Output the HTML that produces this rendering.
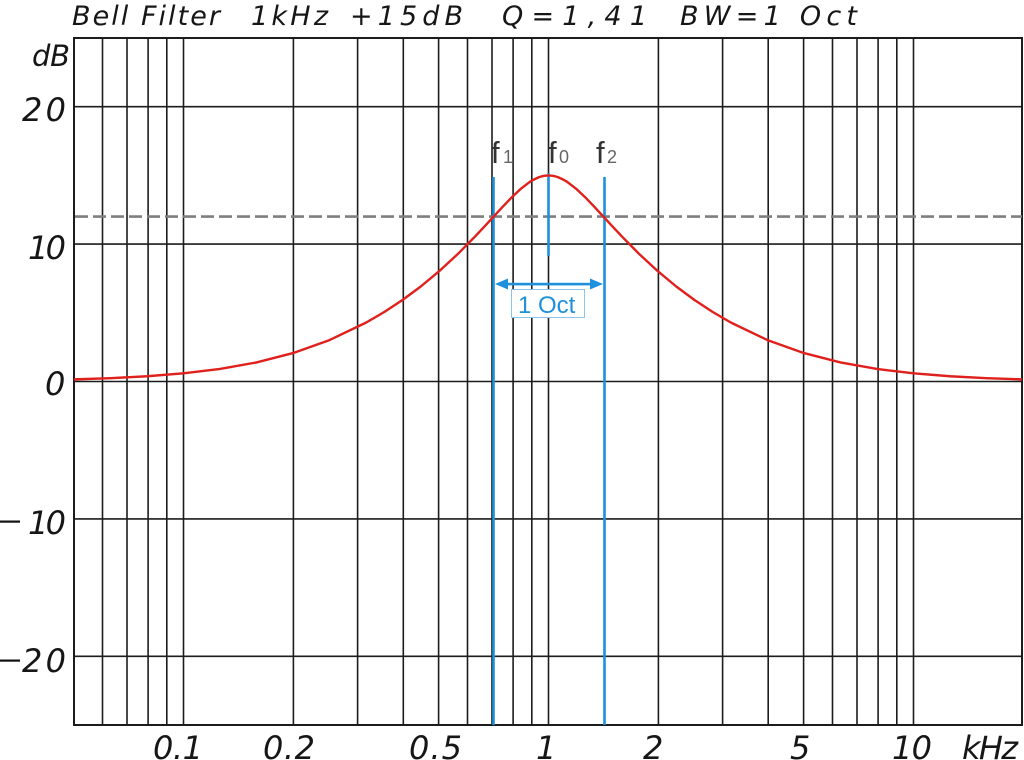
<!DOCTYPE html>
<html><head><meta charset="utf-8"><style>
html,body{margin:0;padding:0;background:#fff;}
svg{display:block;}
.t{font-family:"DejaVu Sans","Liberation Sans",sans-serif;font-style:italic;fill:#161616;}
</style></head><body>
<svg width="1024" height="760" viewBox="0 0 1024 760" xmlns="http://www.w3.org/2000/svg">
<rect width="1024" height="760" fill="#fff"/>
<!-- title -->
<g class="t" font-size="27">
<text x="72" y="25" textLength="148" lengthAdjust="spacing">Bell Filter</text>
<text x="251" y="25" textLength="77" lengthAdjust="spacing">1kHz</text>
<text x="350" y="25" textLength="113" lengthAdjust="spacing">+15dB</text>
<text x="502" y="25" textLength="145" lengthAdjust="spacing">Q=1,41</text>
<text x="680" y="25" textLength="177" lengthAdjust="spacing">BW=1 Oct</text>
</g>
<!-- grid -->
<g stroke="#1c1c1c" stroke-width="1.6" fill="none">
<line x1="102.5" y1="38" x2="102.5" y2="725"/>
<line x1="127" y1="38" x2="127" y2="725"/>
<line x1="148.1" y1="38" x2="148.1" y2="725"/>
<line x1="166.8" y1="38" x2="166.8" y2="725"/>
<line x1="183.5" y1="38" x2="183.5" y2="725"/>
<line x1="293.4" y1="38" x2="293.4" y2="725"/>
<line x1="357.6" y1="38" x2="357.6" y2="725"/>
<line x1="403.3" y1="38" x2="403.3" y2="725"/>
<line x1="438.6" y1="38" x2="438.6" y2="725"/>
<line x1="467.5" y1="38" x2="467.5" y2="725"/>
<line x1="492" y1="38" x2="492" y2="725"/>
<line x1="513.1" y1="38" x2="513.1" y2="725"/>
<line x1="531.8" y1="38" x2="531.8" y2="725"/>
<line x1="548.5" y1="38" x2="548.5" y2="725"/>
<line x1="658.4" y1="38" x2="658.4" y2="725"/>
<line x1="722.6" y1="38" x2="722.6" y2="725"/>
<line x1="768.2" y1="38" x2="768.2" y2="725"/>
<line x1="803.6" y1="38" x2="803.6" y2="725"/>
<line x1="832.5" y1="38" x2="832.5" y2="725"/>
<line x1="857" y1="38" x2="857" y2="725"/>
<line x1="878.1" y1="38" x2="878.1" y2="725"/>
<line x1="896.8" y1="38" x2="896.8" y2="725"/>
<line x1="913.5" y1="38" x2="913.5" y2="725"/>
<line x1="74" y1="106.7" x2="1022" y2="106.7"/>
<line x1="74" y1="244.1" x2="1022" y2="244.1"/>
<line x1="74" y1="381.5" x2="1022" y2="381.5"/>
<line x1="74" y1="518.9" x2="1022" y2="518.9"/>
<line x1="74" y1="656.3" x2="1022" y2="656.3"/>
<rect x="74" y="38" width="948" height="687" stroke-width="2"/>
</g>
<!-- dashed line -->
<line x1="75" y1="216.6" x2="1022" y2="216.6" stroke="#7f7f7f" stroke-width="2.6" stroke-dasharray="13 5"/>
<!-- blue markers -->
<g stroke="#1e90dc" stroke-width="2.6" fill="none">
<line x1="493.5" y1="177" x2="493.5" y2="725"/>
<line x1="604.5" y1="177" x2="604.5" y2="725"/>
<line x1="548.5" y1="173" x2="548.5" y2="256"/>
</g>
<!-- red curve -->
<polyline fill="none" stroke="#e0201c" stroke-width="2.4" stroke-linejoin="round" points="
74,379.37 110.5,378.15 147,376.25 183.5,373.35 220,368.96 256.5,362.44 293,353.09 329.5,340.07 366,322.64 384.25,312.02 402.5,300.01 420.75,286.49 439,271.36 457.25,254.54 475.5,236.08 484.63,226.34 493.75,216.41 502.88,206.53 512,197.07 521.13,188.52 530.25,181.6 534.8,179.1 539.38,177.01 544,175.8 548.5,175.4 553,175.8 557.63,177.01 562.2,179.1 566.75,181.6 575.88,188.52 585,197.07 594.13,206.53 603.25,216.41 612.38,226.34 621.5,236.08 639.75,254.54 658,271.36 676.25,286.49 694.5,300.01 712.75,312.02 731,322.64 767.5,340.07 804,353.09 840.5,362.44 877,368.96 913.5,373.35 950,376.25 986.5,378.15 1022,379.37"/>
<!-- arrow -->
<g fill="#1e90dc" stroke="none">
<rect x="504" y="282.8" width="90" height="2.6"/>
<polygon points="495,284 508,278.5 508,289.5"/>
<polygon points="603,284 590,278.5 590,289.5"/>
</g>
<rect x="511.5" y="289.5" width="73" height="28" fill="#fff" stroke="#8cc4ec" stroke-width="1"/>
<text x="518" y="313" font-family="Liberation Sans, sans-serif" font-size="24" fill="#1e90dc">1 Oct</text>
<!-- f labels -->
<g font-family="Liberation Sans, sans-serif">
<text x="491" y="163" font-size="31" fill="#333">f</text>
<text x="503" y="163" font-size="18" fill="#666">1</text>
<text x="548" y="163" font-size="31" fill="#333">f</text>
<text x="559" y="163" font-size="18" fill="#666">0</text>
<text x="596" y="163" font-size="31" fill="#333">f</text>
<text x="607" y="163" font-size="18" fill="#666">2</text>
</g>
<!-- y labels -->
<g class="t" font-size="32">
<text x="32" y="66" font-size="29" textLength="38" lengthAdjust="spacing">dB</text>
<text x="22" y="121" textLength="44" lengthAdjust="spacing">20</text>
<text x="28" y="259" textLength="38" lengthAdjust="spacing">10</text>
<text x="45" y="395">0</text>
<text x="28" y="534" textLength="38" lengthAdjust="spacing">10</text>
<text x="22" y="672" textLength="44" lengthAdjust="spacing">20</text>
</g>
<rect x="0" y="520.5" width="20" height="2.2" fill="#111"/>
<rect x="0" y="659.5" width="20" height="2.2" fill="#111"/>
<!-- x labels -->
<g class="t" font-size="32">
<text x="153" y="759" textLength="50" lengthAdjust="spacing">0.1</text>
<text x="263" y="759" textLength="52" lengthAdjust="spacing">0.2</text>
<text x="409" y="759" textLength="53" lengthAdjust="spacing">0.5</text>
<text x="536" y="759">1</text>
<text x="643" y="759">2</text>
<text x="790" y="759">5</text>
<text x="892" y="759" textLength="40" lengthAdjust="spacing">10</text>
<text x="962" y="759" textLength="56" lengthAdjust="spacing">kHz</text>
</g>
</svg>
</body></html>
